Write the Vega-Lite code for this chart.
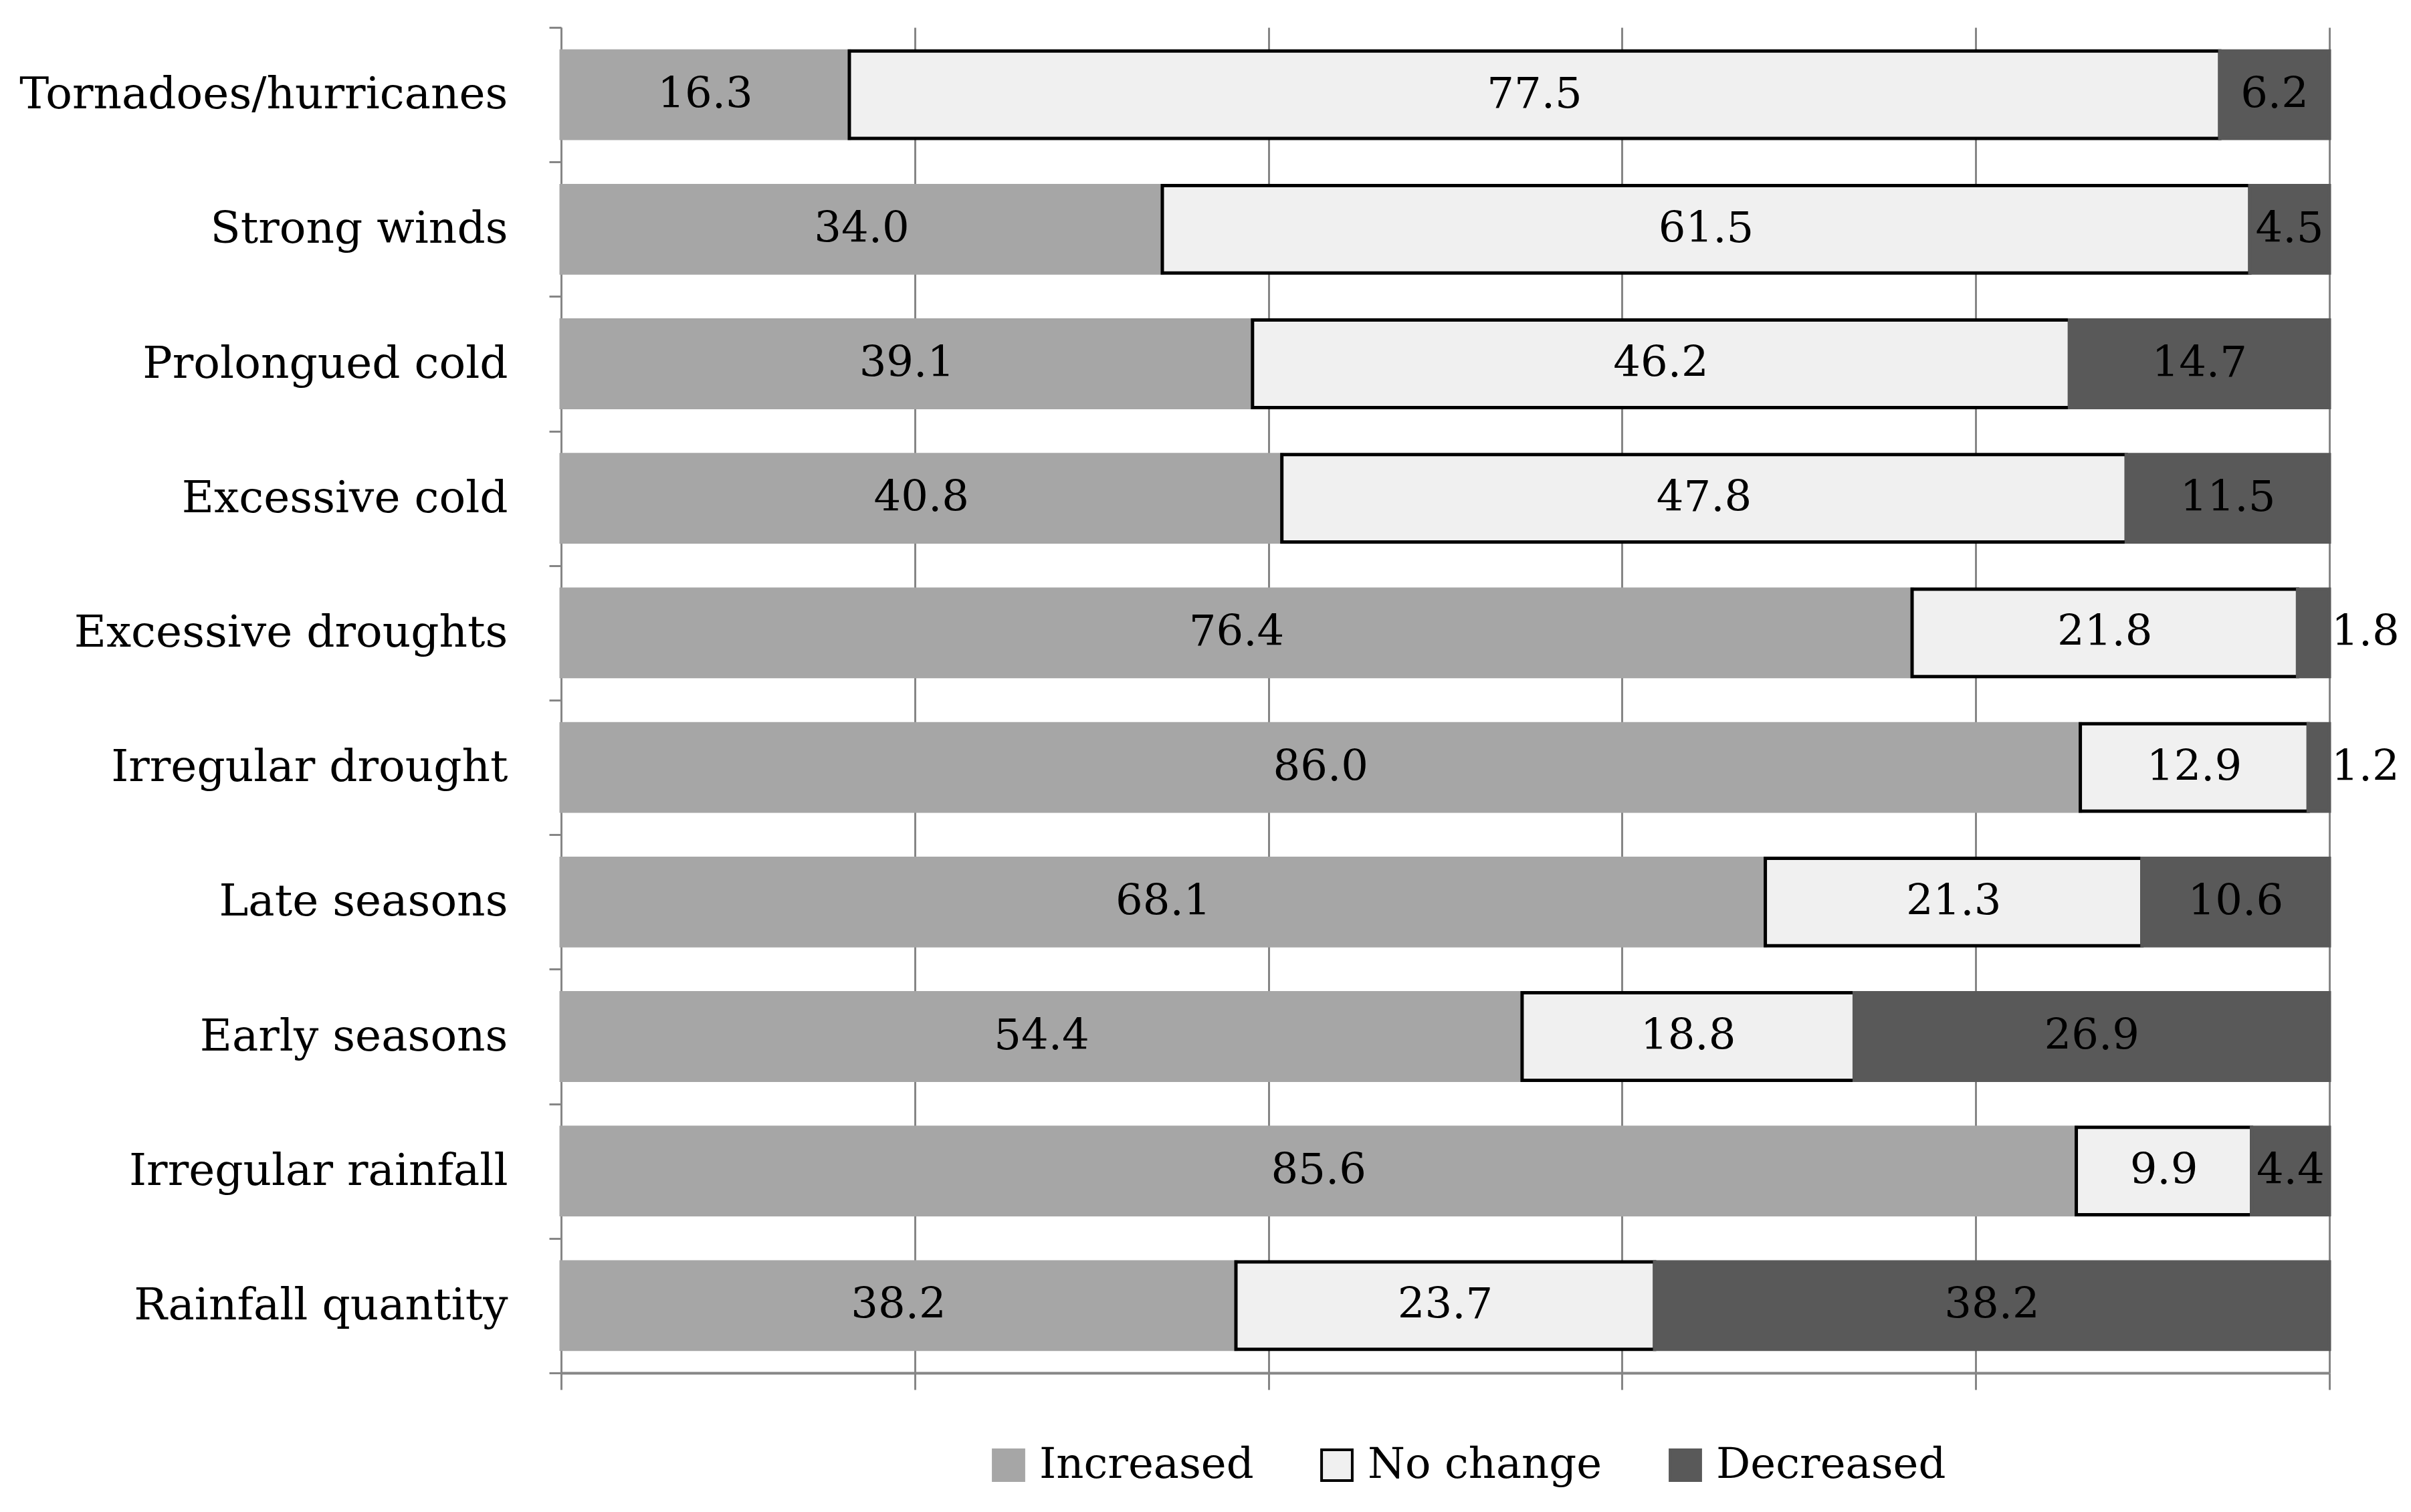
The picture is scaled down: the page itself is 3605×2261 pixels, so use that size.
{
  "$schema": "https://vega.github.io/schema/vega-lite/v6.json",
  "width": 2644,
  "height": 2012,
  "autosize": {"type": "none"},
  "padding": {"left": 839, "top": 41, "right": 122, "bottom": 208},
  "background": "white",
  "config": {"view": {"stroke": null}, "font": "DejaVu Serif"},
  "data": {
    "values": [
      {"category": "Tornadoes/hurricanes", "response": "Increased", "value": 16.3},
      {"category": "Tornadoes/hurricanes", "response": "No change", "value": 77.5},
      {"category": "Tornadoes/hurricanes", "response": "Decreased", "value": 6.2},
      {"category": "Strong winds", "response": "Increased", "value": 34.0},
      {"category": "Strong winds", "response": "No change", "value": 61.5},
      {"category": "Strong winds", "response": "Decreased", "value": 4.5},
      {"category": "Prolongued cold", "response": "Increased", "value": 39.1},
      {"category": "Prolongued cold", "response": "No change", "value": 46.2},
      {"category": "Prolongued cold", "response": "Decreased", "value": 14.7},
      {"category": "Excessive cold", "response": "Increased", "value": 40.8},
      {"category": "Excessive cold", "response": "No change", "value": 47.8},
      {"category": "Excessive cold", "response": "Decreased", "value": 11.5},
      {"category": "Excessive droughts", "response": "Increased", "value": 76.4},
      {"category": "Excessive droughts", "response": "No change", "value": 21.8},
      {"category": "Excessive droughts", "response": "Decreased", "value": 1.8},
      {"category": "Irregular drought", "response": "Increased", "value": 86.0},
      {"category": "Irregular drought", "response": "No change", "value": 12.9},
      {"category": "Irregular drought", "response": "Decreased", "value": 1.2},
      {"category": "Late seasons", "response": "Increased", "value": 68.1},
      {"category": "Late seasons", "response": "No change", "value": 21.3},
      {"category": "Late seasons", "response": "Decreased", "value": 10.6},
      {"category": "Early seasons", "response": "Increased", "value": 54.4},
      {"category": "Early seasons", "response": "No change", "value": 18.8},
      {"category": "Early seasons", "response": "Decreased", "value": 26.9},
      {"category": "Irregular rainfall", "response": "Increased", "value": 85.6},
      {"category": "Irregular rainfall", "response": "No change", "value": 9.9},
      {"category": "Irregular rainfall", "response": "Decreased", "value": 4.4},
      {"category": "Rainfall quantity", "response": "Increased", "value": 38.2},
      {"category": "Rainfall quantity", "response": "No change", "value": 23.7},
      {"category": "Rainfall quantity", "response": "Decreased", "value": 38.2}
    ]
  },
  "transform": [
    {"calculate": "indexof(['Increased','No change','Decreased'], datum.response)", "as": "ord"}
  ],
  "encoding": {
    "y": {
      "field": "category",
      "type": "nominal",
      "sort": null,
      "scale": {"paddingInner": 0, "paddingOuter": 0},
      "axis": {
        "title": null,
        "tickBand": "extent",
        "domainColor": "#868686",
        "domainWidth": 3,
        "tickColor": "#868686",
        "tickWidth": 3,
        "tickSize": 18,
        "labelFontSize": 66,
        "labelFont": "DejaVu Serif",
        "labelColor": "black",
        "labelPadding": 62,
        "labelLimit": 0,
        "grid": false
      }
    }
  },
  "layer": [
    {
      "mark": {"type": "bar", "strokeWidth": 5, "height": {"band": 0.65}},
      "encoding": {
        "x": {
          "field": "value",
          "type": "quantitative",
          "stack": "normalize",
          "scale": {"domain": [0, 1]},
          "axis": {
            "title": null,
            "labels": false,
            "values": [0, 0.2, 0.4, 0.6, 0.8, 1],
            "grid": true,
            "gridColor": "#868686",
            "gridWidth": 3,
            "tickSize": 25,
            "tickColor": "#868686",
            "tickWidth": 3,
            "domainColor": "#868686",
            "domainWidth": 4
          }
        },
        "color": {
          "field": "response",
          "type": "nominal",
          "sort": ["Increased", "No change", "Decreased"],
          "scale": {"domain": ["Increased", "No change", "Decreased"], "range": ["#a6a6a6", "#f0f0f0", "#595959"]},
          "legend": {
            "title": null,
            "orient": "none",
            "legendX": 637,
            "legendY": 2118,
            "direction": "horizontal",
            "symbolType": "square",
            "symbolSize": 2100,
            "symbolStrokeWidth": 4,
            "labelFontSize": 64,
            "labelFont": "DejaVu Serif",
            "labelColor": "black",
            "labelLimit": 0,
            "columnPadding": 92,
            "labelOffset": 14
          }
        },
        "stroke": {
          "field": "response",
          "type": "nominal",
          "sort": ["Increased", "No change", "Decreased"],
          "scale": {"domain": ["Increased", "No change", "Decreased"], "range": ["#a6a6a6", "#000000", "#595959"]},
          "legend": {
            "title": null,
            "orient": "none",
            "legendX": 637,
            "legendY": 2118,
            "direction": "horizontal",
            "symbolType": "square",
            "symbolSize": 2100,
            "symbolStrokeWidth": 4,
            "labelFontSize": 64,
            "labelFont": "DejaVu Serif",
            "labelColor": "black",
            "labelLimit": 0,
            "columnPadding": 92,
            "labelOffset": 14
          }
        },
        "order": {"field": "ord"}
      }
    },
    {
      "mark": {"type": "text", "fontSize": 64, "font": "DejaVu Serif", "color": "black"},
      "encoding": {
        "x": {"field": "value", "type": "quantitative", "stack": "normalize", "bandPosition": 0.5},
        "detail": {"field": "response"},
        "order": {"field": "ord"},
        "text": {"field": "value", "type": "quantitative", "format": ".1f"},
        "opacity": {"condition": {"test": "datum.value < 3", "value": 0}, "value": 1}
      }
    },
    {
      "transform": [{"filter": "datum.value < 3"}],
      "mark": {"type": "text", "fontSize": 64, "font": "DejaVu Serif", "color": "black", "align": "left", "dx": 3},
      "encoding": {
        "x": {"datum": 1},
        "text": {"field": "value", "type": "quantitative", "format": ".1f"}
      }
    }
  ]
}
